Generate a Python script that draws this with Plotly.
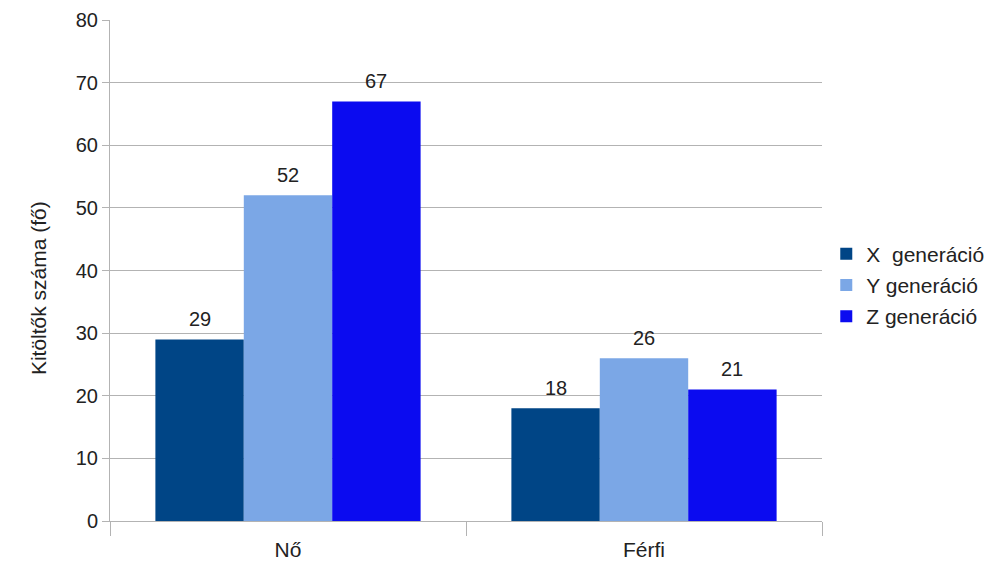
import plotly.graph_objects as go

categories = ["Nő", "Férfi"]
series_names = ["X  generáció", "Y generáció", "Z generáció"]
x_gen = [29, 18]
y_gen = [52, 26]
z_gen = [67, 21]
colors = ["#004586", "#7ba7e6", "#0b0bf0"]
y_ticks = [0, 10, 20, 30, 40, 50, 60, 70, 80]
y_title = "Kitöltők száma (fő)"

font_family = "Liberation Sans, Arial, sans-serif"
text_color = "#222222"

W, H = 1005, 563
margin = dict(l=110, r=183, t=20, b=42, autoexpand=False)
bargap = 0.255

fig = go.Figure()
series = [x_gen, y_gen, z_gen]
for i, (name, vals, col) in enumerate(zip(series_names, series, colors)):
    fig.add_trace(go.Bar(
        x=categories, y=vals, name=name,
        marker=dict(color=col, line=dict(width=0)),
        legendgroup=f"g{i}",
        hoverinfo="x+y+name",
    ))

# value labels above each bar, shifted sideways to the bar's slot in its group
plot_w = W - margin["l"] - margin["r"]
cat_w = plot_w / len(categories)
bar_w = cat_w * (1 - bargap) / len(series)
for i, vals in enumerate(series):
    offset = (i - (len(series) - 1) / 2) * bar_w
    for cat, v in zip(categories, vals):
        fig.add_annotation(
            x=cat, y=v, text=str(v), showarrow=False,
            xanchor="center", yanchor="bottom", xshift=offset, yshift=7,
            font=dict(size=20, color=text_color, family=font_family),
        )

# vertical axis title, set slightly below the middle of the axis
fig.add_annotation(
    xref="paper", yref="paper", x=-0.101, y=0.465,
    text=y_title, textangle=-90, showarrow=False,
    xanchor="center", yanchor="middle",
    font=dict(size=21, color=text_color, family=font_family),
)

fig.update_layout(
    width=W, height=H,
    margin=margin,
    paper_bgcolor="white", plot_bgcolor="white",
    barmode="group", bargap=bargap, bargroupgap=0,
    font=dict(family=font_family, size=20, color=text_color),
    legend=dict(x=1.006, y=0.471, xanchor="left", yanchor="middle",
                font=dict(size=21, color=text_color),
                itemwidth=30, tracegroupgap=1, traceorder="grouped"),
    showlegend=True,
)
fig.update_xaxes(
    automargin=False,
    showline=True, linecolor="#b3b3b3", linewidth=1,
    ticks="outside", tickson="boundaries", ticklen=14, tickcolor="#b3b3b3",
    ticklabelstandoff=10,
    showgrid=False, tickfont=dict(size=21, color=text_color),
)
fig.update_yaxes(
    automargin=False,
    range=[0, 80], tickvals=y_ticks,
    showgrid=True, gridcolor="#b3b3b3", gridwidth=1,
    showline=True, linecolor="#b3b3b3", linewidth=1,
    ticks="outside", ticklen=7, tickcolor="#b3b3b3",
    zeroline=False, tickfont=dict(size=20, color=text_color),
)

fig.write_html("out.html")
